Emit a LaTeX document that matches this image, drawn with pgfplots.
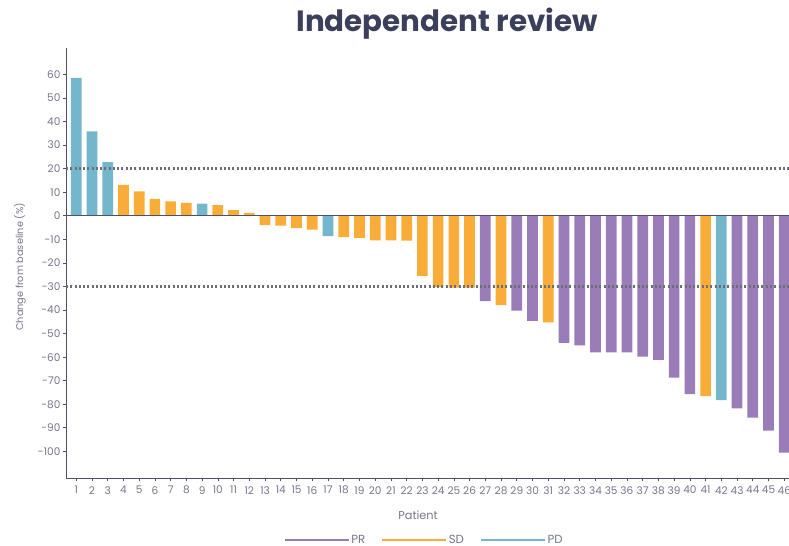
\documentclass[border=0pt]{standalone}
\usepackage{pgfplots}
\pgfplotsset{compat=1.18}
\usepackage{fontspec}
\setmainfont{Poppins}
\definecolor{prc}{HTML}{997CB8}
\definecolor{sdc}{HTML}{FAAC38}
\definecolor{pdc}{HTML}{74B7CC}
\definecolor{axc}{HTML}{4E5068}
\definecolor{txc}{HTML}{75768A}
\definecolor{ttc}{HTML}{3B3F5C}
\definecolor{dotc}{HTML}{6E6E78}
\begin{document}
\begin{tikzpicture}
\path[use as bounding box] (-49.5pt,-51pt) rectangle (542.25pt,358.5pt);
\begin{axis}[
  at={(0pt,0pt)}, anchor=south west,
  scale only axis, width=542.25pt, height=322.5pt,
  xmin=0.35, xmax=46.3, ymin=-111.3, ymax=71.2,
  axis lines=left, axis line style={axc, line width=0.6pt, -},
  xtick={1,...,46}, ytick={-100,-90,...,60},
  tick align=outside, major tick length=2.5pt,
  tick style={axc, line width=0.5pt},
  /pgf/number format/assume math mode=true,
  ticklabel style={font=\fontsize{7.9}{9}\selectfont, text=txc},
  xticklabel style={inner sep=0.5pt, yshift=-3pt},
  yticklabel style={inner sep=1.5pt},
  title={Independent review},
  title style={font=\fontsize{22}{26}\selectfont\bfseries, text=ttc, at={(axis description cs:0.527,1.037)}, anchor=center},
  xlabel={Patient},
  xlabel style={font=\fontsize{8.5}{10}\selectfont, text=txc, at={(axis description cs:0.487,-0.086)}, anchor=center},
  ylabel={Change from baseline (\%)},
  ylabel style={font=\fontsize{7.3}{9}\selectfont, text=txc, at={(axis description cs:-0.0636,0.491)}, anchor=center},
  legend columns=3,
  legend style={draw=none, fill=none, font=\fontsize{8.8}{10}\selectfont, text=txc,
    inner sep=0pt, nodes={inner sep=1pt},
    at={(axis description cs:0.495,-0.145)}, anchor=center,
    /tikz/every even column/.append style={column sep=11pt}},
  legend image code/.code={\draw[line width=1.7pt] (0pt,0pt) -- (48pt,0pt);},
  clip=false,
]
\addplot[ybar, bar shift=0pt, bar width=0.68, fill=prc, draw=none, color=prc] coordinates {
(27,-36.2) (29,-40.3) (30,-44.6) (32,-53.9) (33,-55.0) (34,-58.0) (35,-58.0) (36,-58.0)
(37,-59.8) (38,-61.2) (39,-68.7) (40,-75.7) (43,-81.8) (44,-85.7) (45,-91.2) (46,-100.5)};
\addlegendentry{PR}
\addplot[ybar, bar shift=0pt, bar width=0.68, fill=sdc, draw=none, color=sdc] coordinates {
(4,13.1) (5,10.3) (6,7.2) (7,6.1) (8,5.5) (10,4.5) (11,2.4) (12,1.2) (13,-4.0) (14,-4.2)
(15,-5.3) (16,-5.9) (18,-9.1) (19,-9.4) (20,-10.4) (21,-10.4) (22,-10.6) (23,-25.5)
(24,-30.2) (25,-30.5) (26,-30.5) (28,-37.9) (31,-45.3) (41,-76.6)};
\addlegendentry{SD}
\addplot[ybar, bar shift=0pt, bar width=0.68, fill=pdc, draw=none, color=pdc] coordinates {
(1,58.5) (2,35.8) (3,22.8) (9,5.1) (17,-8.6) (42,-78.3)};
\addlegendentry{PD}
\addplot[forget plot, axc, line width=0.8pt] coordinates {(0.35,0) (46.3,0)};
\addplot[forget plot, dotc, line width=1.8pt, dash pattern=on 1.5pt off 1.7pt] coordinates {(0.35,20) (46.3,20)};
\addplot[forget plot, dotc, line width=1.8pt, dash pattern=on 1.5pt off 1.7pt] coordinates {(0.35,-30) (46.3,-30)};
\end{axis}
\end{tikzpicture}
\end{document}
